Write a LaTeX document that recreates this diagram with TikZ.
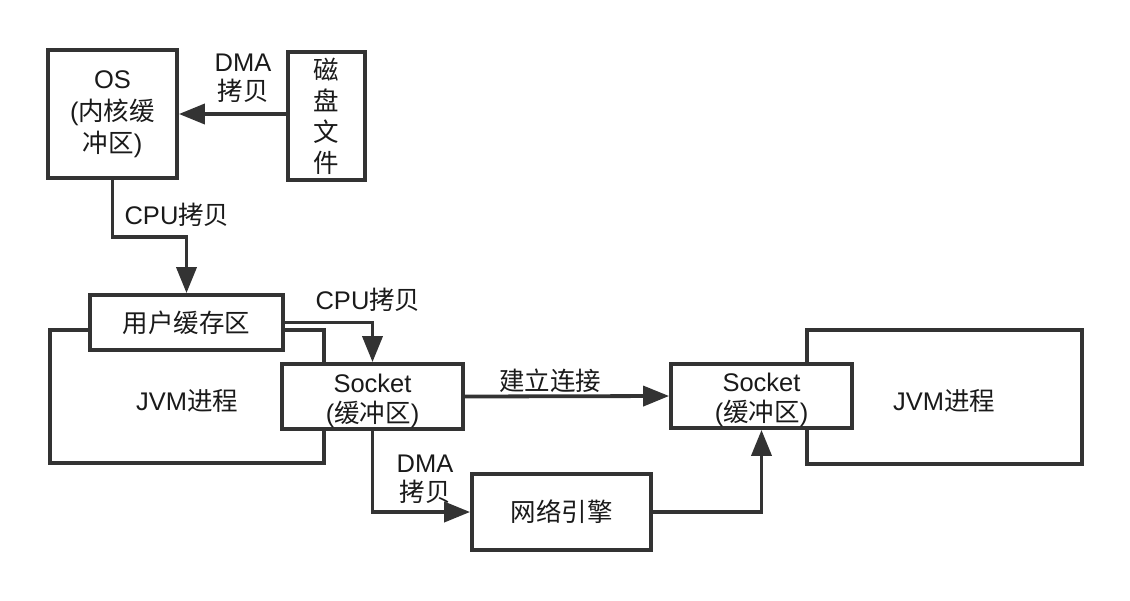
\documentclass[tikz,border=0pt]{standalone}
\usepackage{fontspec}
\setmainfont{Liberation Sans}
\newfontfamily\cjk{Noto Sans CJK SC}
\usetikzlibrary{arrows.meta}
\definecolor{linec}{HTML}{333333}
\definecolor{textc}{HTML}{1A1A1A}
\newcommand\fs{\fontsize{25.5}{29}\selectfont}
\newcommand\socktext{\raisebox{-11pt}[0pt][0pt]{\begin{tabular}{@{}c@{}}Socket\\({\cjk 缓冲区})\end{tabular}}}
\tikzset{
  box/.style={draw=linec, line width=3.8pt, fill=white, inner sep=0pt, align=center, font=\fs, text=textc},
  frame/.style={draw=linec, line width=3.8pt},
  arr/.style={draw=linec, line width=3.8pt, -{Triangle[length=26pt,width=20pt]}},
  lbl/.style={font=\fs, align=center, inner sep=0pt, text=textc},
}
\begin{document}
\begin{tikzpicture}[x=1pt,y=-1pt]
\useasboundingbox (0,0) rectangle (1130,600);
% JVM process frames
\draw[frame] (50,330) rectangle (324,463);
\draw[frame] (807,330) rectangle (1082,464);
\node[lbl] (jvm1) at (187,401) {JVM{\cjk 进程}};
\node[lbl] (jvm2) at (944,401) {JVM{\cjk 进程}};
% boxes
\node[box, minimum width=129pt, minimum height=128pt, font=\fontsize{25.5}{32}\selectfont] (os) at (112.5,114)
  {OS\\({\cjk 内核缓}\\{\cjk 冲区})};
\node[box, minimum width=77pt, minimum height=128pt, font=\fontsize{25.5}{31}\selectfont\cjk] (disk) at (326.5,116)
  {磁\\盘\\文\\件};
\node[box, minimum width=193pt, minimum height=55pt] (ub) at (186.5,322.5) {\cjk 用户缓存区};
\node[box, minimum width=181pt, minimum height=65pt] (s1) at (372.5,396.5) {\socktext};
\node[box, minimum width=181pt, minimum height=64pt] (s2) at (761.5,396) {\socktext};
\node[box, minimum width=179pt, minimum height=76pt] (net) at (561.5,512) {\cjk 网络引擎};
% connectors
\draw[arr] (disk.west |- 0,114) -- (os.east);
\node[lbl] (l1) at (243,78) {DMA\\{\cjk 拷贝}};
\coordinate (c1) at (186.5,237);
\draw[arr] (os.south) |- (c1) -- (ub.north);
\node[lbl] (l2) at (177,215) {CPU{\cjk 拷贝}};
\draw[arr] (ub.east) -| (s1.north);
\node[lbl] (l3) at (368,300) {CPU{\cjk 拷贝}};
\draw[arr] (s1.east) -- (s2.west);
\node[lbl] (l4) at (550,381) {\cjk 建立连接};
\draw[arr] (s1.south) |- (net.west);
\node[lbl] (l5) at (425,479) {DMA\\{\cjk 拷贝}};
\draw[arr] (net.east) -| (s2.south);
\end{tikzpicture}
\end{document}
